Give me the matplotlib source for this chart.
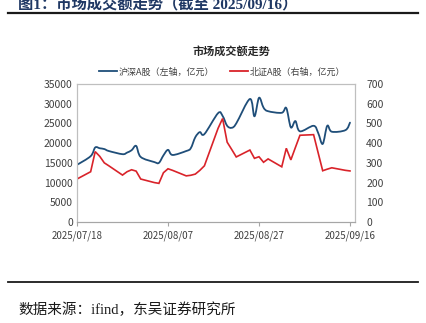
import matplotlib
matplotlib.use('Agg')
import matplotlib.pyplot as plt
import matplotlib.dates as mdates
from matplotlib.path import Path
from matplotlib.patches import PathPatch
from matplotlib.lines import Line2D
import pandas as pd

plt.rcParams['font.family'] = ['Noto Sans CJK SC', 'DejaVu Sans']

# 交易日
trade_days = [
    '2025-07-18', '2025-07-21', '2025-07-22', '2025-07-23', '2025-07-24', '2025-07-25',
    '2025-07-28', '2025-07-29', '2025-07-30', '2025-07-31', '2025-08-01',
    '2025-08-04', '2025-08-05', '2025-08-06', '2025-08-07', '2025-08-08',
    '2025-08-11', '2025-08-12', '2025-08-13', '2025-08-14', '2025-08-15',
    '2025-08-18', '2025-08-19', '2025-08-20', '2025-08-21', '2025-08-22',
    '2025-08-25', '2025-08-26', '2025-08-27', '2025-08-28', '2025-08-29',
    '2025-09-01', '2025-09-02', '2025-09-03', '2025-09-04', '2025-09-05',
    '2025-09-08', '2025-09-09', '2025-09-10', '2025-09-11', '2025-09-12',
    '2025-09-15', '2025-09-16',
]

# 沪深A股成交额（亿元，左轴）
hs_turnover = [
    14500, 16700, 18900, 18700, 18500, 18000,
    17200, 17600, 18200, 19300, 16500,
    15200, 15000, 16900, 18300, 17000,
    18000, 18700, 21500, 22800, 22300,
    27600, 26900, 24400, 23900, 25000,
    31200, 26800, 31500, 29000, 28100,
    27700, 28900, 24000, 25600, 23000,
    24400, 22600, 19800, 24400, 22900,
    23300, 25200,
]

# 北证A股成交额（亿元，右轴）
bj_turnover = [
    218, 255, 357, 333, 300, 285,
    238, 255, 265, 258, 218,
    200, 196, 250, 270, 262,
    234, 237, 243, 262, 285,
    475, 525, 405, 368, 330,
    365, 323, 331, 303, 320,
    280, 374, 315, 378, 440,
    443, 351, 260, 268, 275,
    262, 259,
]

tick_dates = ['2025-07-18', '2025-08-07', '2025-08-27', '2025-09-16']

blue = '#1F4E79'
red = '#D9232A'
grey = '#BFBFBF'


def smooth_path(xs, ys):
    # 平滑曲线（类似 Excel 的平滑线）
    verts = [(xs[0], ys[0])]
    codes = [Path.MOVETO]
    n = len(xs)
    for i in range(n - 1):
        xa, ya = (xs[i - 1], ys[i - 1]) if i > 0 else (xs[i], ys[i])
        xd, yd = (xs[i + 2], ys[i + 2]) if i + 2 < n else (xs[i + 1], ys[i + 1])
        c1 = (xs[i] + (xs[i + 1] - xa) / 6, ys[i] + (ys[i + 1] - ya) / 6)
        c2 = (xs[i + 1] - (xd - xs[i]) / 6, ys[i + 1] - (yd - ys[i]) / 6)
        verts += [c1, c2, (xs[i + 1], ys[i + 1])]
        codes += [Path.CURVE4] * 3
    return Path(verts, codes)


dates = pd.to_datetime(trade_days)
xnum = mdates.date2num(dates)

fig = plt.figure(figsize=(4.27, 3.23), dpi=100)
ax = fig.add_axes([77 / 427, 1 - 222 / 323, 278 / 427, 138 / 323])
ax2 = ax.twinx()

ax.add_patch(PathPatch(smooth_path(list(xnum), hs_turnover), fill=False,
                       edgecolor=blue, lw=1.3, capstyle='round', joinstyle='round'))
ax2.plot(dates, bj_turnover, color=red, lw=1.2, solid_joinstyle='miter')

x0 = mdates.date2num(pd.Timestamp('2025-07-18'))
ax.set_xlim(x0, x0 + 61.1)
ax.set_ylim(0, 35000)
ax2.set_ylim(0, 700)
ax.set_yticks(range(0, 35001, 5000))
ax2.set_yticks(range(0, 701, 100))

ax.set_xticks(mdates.date2num(pd.to_datetime(tick_dates)))
ax.xaxis.set_major_formatter(mdates.DateFormatter('%Y/%m/%d'))

for a in (ax, ax2):
    for side in ('left', 'right', 'top'):
        a.spines[side].set_color(grey)
        a.spines[side].set_linewidth(0.8)
    a.spines['bottom'].set_color('#A6A6A6')
    a.spines['bottom'].set_linewidth(0.8)
    a.tick_params(axis='y', length=0, labelsize=7.5, colors='#404040')

ax.tick_params(axis='y', pad=3)
ax2.tick_params(axis='y', pad=8)
ax.tick_params(axis='x', length=3, width=0.8, color='#A6A6A6', labelsize=7, pad=3,
               labelcolor='#404040')

# 标题、图例
fig.text(231 / 427, 1 - 51 / 323, '市场成交额走势', ha='center', va='center',
         fontsize=8, fontweight='bold', color='#262626')
handles = [Line2D([], [], color=blue, lw=1.3), Line2D([], [], color=red, lw=1.3)]
fig.legend(handles, ['沪深A股（左轴，亿元）', '北证A股（右轴，亿元）'],
           loc='center', bbox_to_anchor=(222 / 427, 1 - 72 / 323), ncol=2,
           frameon=False, fontsize=6.5, handlelength=2.0, handletextpad=0.2,
           columnspacing=1.8, labelcolor='#404040')

# 报告版式：顶部图名（被裁切）、分隔线、来源
fig.text(18 / 427, 1 - 8 / 323, '图1：市场成交额走势（截至 2025/09/16）', ha='left',
         va='baseline', fontsize=11, fontweight='bold', color='#1F3864',
         family=['Liberation Serif', 'Noto Sans CJK SC'])
fig.add_artist(Line2D([8 / 427, 418 / 427], [1 - 13 / 323, 1 - 13 / 323],
                      color='#1a1a1a', lw=1.6, transform=fig.transFigure))
fig.add_artist(Line2D([8 / 427, 418 / 427], [1 - 282 / 323, 1 - 282 / 323],
                      color='#1a1a1a', lw=1.3, transform=fig.transFigure))
fig.text(18 / 427, 1 - 310 / 323, '数据来源：ifind，东吴证券研究所', ha='left',
         va='center', fontsize=10.5, color='#1a1a1a',
         family=['Liberation Serif', 'Noto Sans CJK SC'])

fig.savefig('out.png', dpi=100)
